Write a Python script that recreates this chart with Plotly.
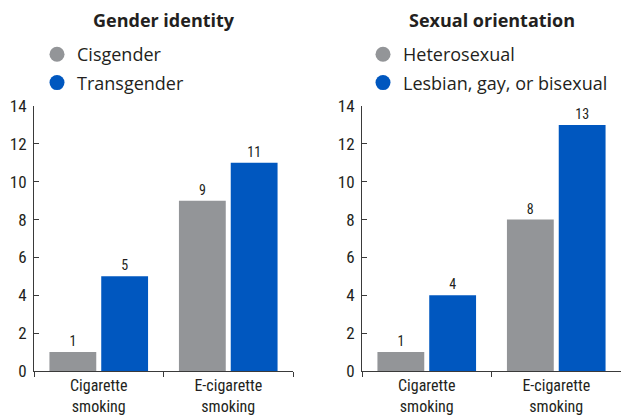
import plotly.graph_objects as go

categories = ["Cigarette<br>smoking", "E-cigarette<br>smoking"]

gender_title = "Gender identity"
gender_names = ["Cisgender", "Transgender"]
cisgender = [1, 9]
transgender = [5, 11]

orient_title = "Sexual orientation"
orient_names = ["Heterosexual", "Lesbian, gay, or bisexual"]
heterosexual = [1, 8]
lgb = [4, 13]

y_ticks = [0, 2, 4, 6, 8, 10, 12, 14]

GRAY = "#939598"
BLUE = "#0057BF"
TXT = "#231F20"
AX = "#3a3a3a"
FONT_C = "Liberation Sans Narrow, Roboto Condensed, Roboto, sans-serif"
FONT_L = "Open Sans, Noto Sans, sans-serif"

fig = go.Figure()

panels = [
    ("x", "y", "legend", gender_names, [cisgender, transgender]),
    ("x2", "y2", "legend2", orient_names, [heterosexual, lgb]),
]
colors = [GRAY, BLUE]
for xa, ya, lg, names, series in panels:
    for i, (nm, vals) in enumerate(zip(names, series)):
        fig.add_trace(go.Bar(
            x=categories, y=vals, xaxis=xa, yaxis=ya, name=nm,
            marker=dict(color=colors[i], line=dict(width=0)),
            text=[str(v) for v in vals], textposition="outside",
            textfont=dict(family=FONT_C, size=14, color=TXT),
            cliponaxis=False, showlegend=False,
        ))
    for i, nm in enumerate(names):
        fig.add_trace(go.Scatter(
            x=[None], y=[None], xaxis=xa, yaxis=ya, mode="markers", name=nm,
            marker=dict(symbol="circle", size=15, color=colors[i]),
            legend=lg, legendgroup=f"{lg}_{i}", showlegend=True,
        ))

L = 34
W = 621 - L
xd1 = [0, (293 - L) / W]
xd2 = [(362 - L) / W, 1]

axis_common = dict(showline=True, linecolor=AX, linewidth=1, showgrid=False, zeroline=False)

fig.update_layout(
    width=621, height=419,
    margin=dict(l=L, r=0, t=106, b=48),
    paper_bgcolor="white", plot_bgcolor="white",
    barmode="group", bargap=0.2, bargroupgap=0.096,
    font=dict(family=FONT_C, color=TXT),
    xaxis=dict(domain=xd1, anchor="y", type="category", tickson="boundaries",
               ticks="outside", ticklen=5, tickcolor=AX,
               tickfont=dict(size=16, color=TXT), **axis_common),
    xaxis2=dict(domain=xd2, anchor="y2", type="category", tickson="boundaries",
                ticks="outside", ticklen=5, tickcolor=AX,
                tickfont=dict(size=16, color=TXT), **axis_common),
    yaxis=dict(anchor="x", range=[0, 14], tickvals=y_ticks, ticks="inside", ticklen=5,
               tickcolor=AX, tickfont=dict(size=17, color=TXT), ticklabelstandoff=3,
               **axis_common),
    yaxis2=dict(anchor="x2", range=[0, 14], tickvals=y_ticks, ticks="inside", ticklen=5,
                tickcolor=AX, tickfont=dict(size=17, color=TXT), ticklabelstandoff=3,
                **axis_common),
    legend=dict(x=(37 - L) / W, xanchor="left", y=(371 - 36) / 265, yanchor="top",
                font=dict(family=FONT_L, size=18, color=TXT), tracegroupgap=2,
                bgcolor="rgba(0,0,0,0)", itemclick=False),
    legend2=dict(x=(363 - L) / W, xanchor="left", y=(371 - 36) / 265, yanchor="top",
                 font=dict(family=FONT_L, size=18, color=TXT), tracegroupgap=2,
                 bgcolor="rgba(0,0,0,0)", itemclick=False),
    annotations=[
        dict(text=f"<b>{gender_title}</b>", xref="paper", yref="paper",
             x=(xd1[0] + xd1[1]) / 2, y=(371 - 20) / 265, xanchor="center", yanchor="middle",
             showarrow=False, font=dict(family=FONT_L, size=18, color=TXT)),
        dict(text=f"<b>{orient_title}</b>", xref="paper", yref="paper",
             x=(xd2[0] + xd2[1]) / 2, y=(371 - 20) / 265, xanchor="center", yanchor="middle",
             showarrow=False, font=dict(family=FONT_L, size=18, color=TXT)),
    ],
)

fig.write_html(
    "out.html",
    config={"displayModeBar": False},
    post_script="document.body.style.margin='0';document.body.style.overflow='hidden';",
)
